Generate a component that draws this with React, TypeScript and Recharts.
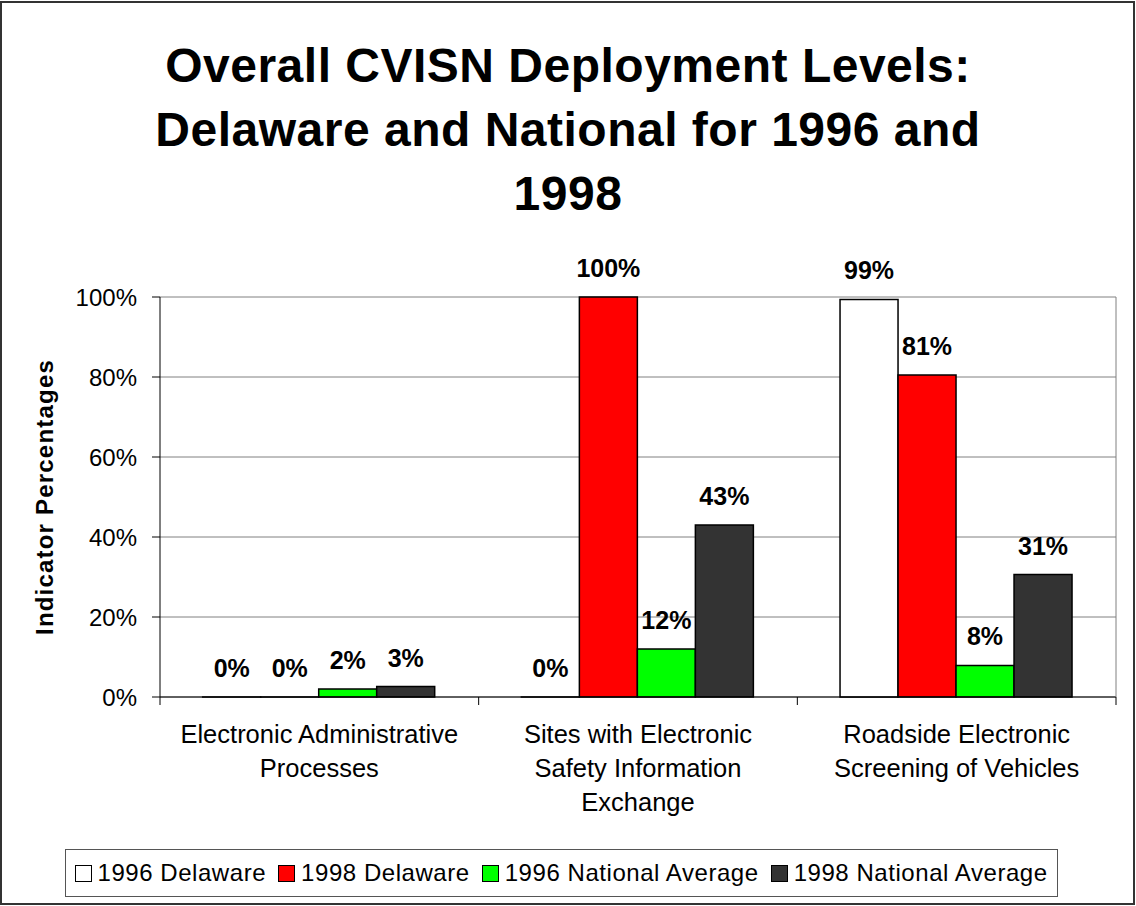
import React from "react";
import {
	BarChart,
	Bar,
	XAxis,
	YAxis,
	CartesianGrid,
	LabelList,
} from "recharts";

// Categories (one entry per group) and how each label wraps under the axis
const categories = [
	"Electronic Administrative Processes",
	"Sites with Electronic Safety Information Exchange",
	"Roadside Electronic Screening of Vehicles",
];
const categoryLines = [
	["Electronic Administrative", "Processes"],
	["Sites with Electronic", "Safety Information", "Exchange"],
	["Roadside Electronic", "Screening of Vehicles"],
];

// Series values (percent)
const delaware1996 = [0, 0, 99.4];
const delaware1998 = [0, 100, 80.5];
const national1996 = [2, 12, 7.9];
const national1998 = [2.6, 43, 30.6];

const seriesNames = [
	"1996 Delaware",
	"1998 Delaware",
	"1996 National Average",
	"1998 National Average",
];
const seriesKeys = ["d96", "d98", "n96", "n98"];
const COLORS = ["#ffffff", "#ff0000", "#00ff00", "#333333"];

const yTicks = [0, 20, 40, 60, 80, 100];

const titleLines = [
	"Overall CVISN Deployment Levels:",
	"Delaware and National for 1996 and",
	"1998",
];

const FONT = '"Liberation Sans", Arial, Helvetica, sans-serif';

const chartData = categories.map((name, i) => ({
	name,
	d96: delaware1996[i],
	d98: delaware1998[i],
	n96: national1996[i],
	n98: national1998[i],
}));

// category label, plus the little tick marks on the category boundaries
const CategoryTick = (props: any) => {
	const { x, y, payload, index, width, visibleTicksCount } = props;
	const idx = categories.indexOf(payload.value);
	const lines = idx >= 0 ? categoryLines[idx] : [payload.value];
	const band = width && visibleTicksCount ? width / visibleTicksCount : 0;
	const isLast = index === visibleTicksCount - 1;
	return (
		<g>
			{band > 0 && (
				<line x1={x - band / 2} x2={x - band / 2} y1={y} y2={y + 8} stroke="#000" />
			)}
			{band > 0 && isLast && (
				<line x1={x + band / 2} x2={x + band / 2} y1={y} y2={y + 8} stroke="#000" />
			)}
			<text
				x={x}
				y={y}
				textAnchor="middle"
				fill="#000"
				fontSize={25.5}
				fontFamily={FONT}
			>
				{lines.map((line: string, i: number) => (
					<tspan key={i} x={x} dy={i === 0 ? 46 : 34}>
						{line}
					</tspan>
				))}
			</text>
		</g>
	);
};

// zero values still get their "0%" label, so keep a hairline bar for them
const zeroBarSize = (v: number) => (v === 0 ? 0.01 : 0);

export default function App() {
	return (
		<div
			style={{
				position: "absolute",
				left: 0,
				top: 0,
				width: 1136,
				height: 906,
				background: "#fff",
				fontFamily: FONT,
			}}
		>
			{/* outer frame */}
			<div
				style={{
					position: "absolute",
					left: 0,
					top: 1,
					width: 1135,
					height: 904,
					border: "2px solid #333",
					boxSizing: "border-box",
				}}
			/>

			{/* title */}
			<div
				style={{
					position: "absolute",
					left: 0,
					top: 34,
					width: 1136,
					textAlign: "center",
					fontWeight: "bold",
					fontSize: 48,
					lineHeight: "64px",
					letterSpacing: 0.5,
					color: "#000",
				}}
			>
				{titleLines.map((t) => (
					<div key={t}>{t}</div>
				))}
			</div>

			<div style={{ position: "absolute", left: 0, top: 0 }}>
				<BarChart
					width={1136}
					height={906}
					data={chartData}
					margin={{ top: 297, right: 19, bottom: 208, left: 10 }}
					barCategoryGap="13.4%"
					barGap={0}
				>
					<CartesianGrid
						xAxisId="cat"
						yAxisId="left"
						vertical={false}
						stroke="#808080"
						strokeWidth={1}
					/>
					<XAxis
						xAxisId="cat"
						dataKey="name"
						height={1}
						tickLine={false}
						tickSize={0}
						tickMargin={0}
						axisLine={{ stroke: "#000", strokeWidth: 1 }}
						tick={<CategoryTick />}
						interval={0}
					/>
					<YAxis
						yAxisId="left"
						width={150}
						domain={[0, 100]}
						ticks={yTicks}
						tickFormatter={(v: number) => `${v}%`}
						tickSize={8}
						tickMargin={15}
						tickLine={{ stroke: "#000" }}
						axisLine={{ stroke: "#000" }}
						tick={{ fill: "#000", fontSize: 24, fontFamily: FONT }}
						label={{
							value: "Indicator Percentages",
							angle: -90,
							position: "insideLeft",
							offset: 34,
							style: {
								textAnchor: "middle",
								fontWeight: "bold",
								fontSize: 24,
								letterSpacing: 1.2,
								fontFamily: FONT,
								fill: "#000",
							},
						}}
					/>
					<YAxis
						yAxisId="right"
						orientation="right"
						width={1}
						domain={[0, 100]}
						ticks={[0, 100]}
						tick={false}
						tickLine={false}
						axisLine={{ stroke: "#808080" }}
					/>
					{seriesKeys.map((key, i) => (
						<Bar
							key={key}
							dataKey={key}
							name={seriesNames[i]}
							xAxisId="cat"
							yAxisId="left"
							fill={COLORS[i]}
							stroke="#000"
							strokeWidth={1.5}
							minPointSize={zeroBarSize}
							isAnimationActive={false}
						>
							<LabelList
								dataKey={key}
								position="top"
								offset={20}
								formatter={(v: any) => `${Math.round(Number(v))}%`}
								style={{
									fontWeight: "bold",
									fontSize: 25,
									fontFamily: FONT,
									fill: "#000",
								}}
							/>
						</Bar>
					))}
				</BarChart>
			</div>

			{/* legend */}
			<div
				style={{
					position: "absolute",
					left: 65,
					top: 849,
					width: 993,
					height: 48,
					border: "1.5px solid #555",
					boxSizing: "border-box",
					display: "flex",
					alignItems: "center",
					paddingLeft: 8.5,
					fontSize: 24,
					letterSpacing: 0.55,
					color: "#000",
					whiteSpace: "nowrap",
				}}
			>
				{seriesNames.map((n, i) => (
					<div
						key={n}
						style={{
							display: "flex",
							alignItems: "center",
							marginRight: i < seriesNames.length - 1 ? 12 : 0,
						}}
					>
						<span
							style={{
								display: "inline-block",
								width: 17,
								height: 17,
								background: COLORS[i],
								border: "1.5px solid #000",
								boxSizing: "border-box",
								marginRight: 6,
							}}
						/>
						<span>{n}</span>
					</div>
				))}
			</div>
		</div>
	);
}
